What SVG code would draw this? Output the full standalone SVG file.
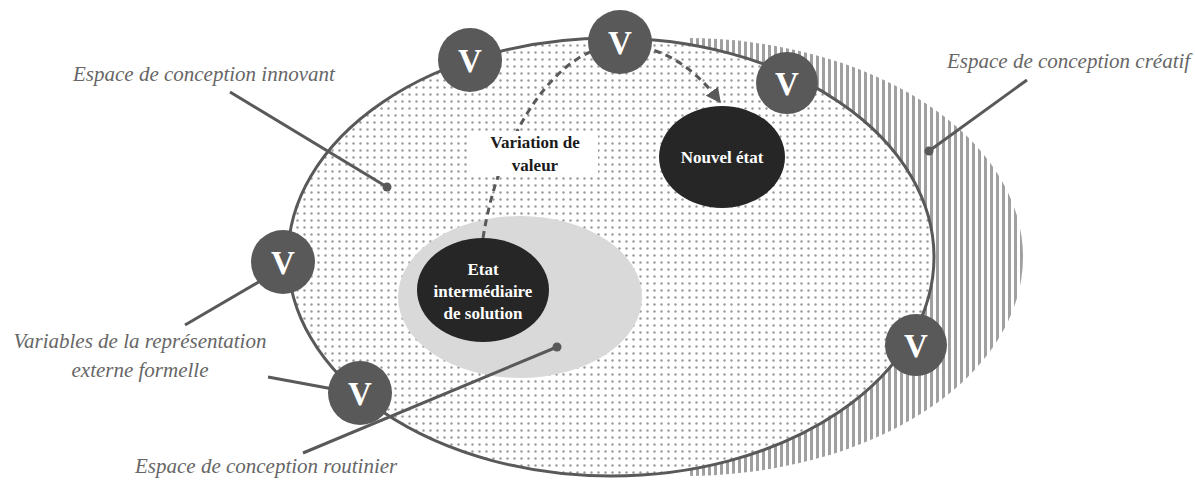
<svg xmlns="http://www.w3.org/2000/svg" width="1195" height="485" viewBox="0 0 1195 485">
<defs>
<style>
.lbl{font-family:"Liberation Serif","Times New Roman","DejaVu Serif",serif;font-style:italic;font-size:21px;fill:#666}
.vc{fill:#595959}
.vt{font-family:"Liberation Serif","Times New Roman","DejaVu Serif",serif;font-weight:bold;font-size:33px;fill:#fff;text-anchor:middle}
.wt{font-family:"Liberation Serif","Times New Roman","DejaVu Serif",serif;font-weight:bold;font-size:17px;fill:#fff;text-anchor:middle}
.bt{font-family:"Liberation Serif","Times New Roman","DejaVu Serif",serif;font-weight:bold;font-size:17px;fill:#1a1a1a;text-anchor:middle}
.ln{stroke:#595959;stroke-width:3;fill:none}
.dot{fill:#595959}
</style>
<pattern id="dots" width="7" height="7" patternUnits="userSpaceOnUse">
<rect width="7" height="7" fill="#fff"/>
<circle cx="3.5" cy="3.5" r="1.2" fill="#9a9a9a"/>
</pattern>
<pattern id="stripes" width="6" height="6" patternUnits="userSpaceOnUse">
<rect width="6" height="6" fill="#fff"/>
<rect width="3" height="6" fill="#a0a0a0"/>
</pattern>
<clipPath id="rightClip"><rect x="687" y="0" width="508" height="485"/></clipPath>
<marker id="arr" viewBox="0 0 10 10" refX="9" refY="5" markerWidth="5" markerHeight="5" orient="auto" markerUnits="strokeWidth">
<path d="M0,0 L10,5 L0,10 z" fill="#595959"/>
</marker>
</defs>

<g id="creative-space">
<ellipse cx="685" cy="257" rx="338" ry="219" fill="url(#stripes)" clip-path="url(#rightClip)"/>
</g>
<g id="innovative-space">
<ellipse cx="611" cy="257" rx="323" ry="219" fill="url(#dots)" stroke="#595959" stroke-width="3"/>
</g>
<g id="routine-space">
<ellipse cx="520" cy="297" rx="122" ry="81" fill="#d9d9d9"/>
</g>

<g id="connectors">
<path class="ln" d="M483,238 C500,130 560,45 620,45 C668,45 700,75 720,102" stroke-dasharray="7,5" marker-end="url(#arr)"/>
<line class="ln" x1="230" y1="92" x2="387" y2="187"/>
<line class="ln" x1="1027" y1="80" x2="929" y2="151"/>
<line class="ln" x1="185" y1="325" x2="262" y2="280"/>
<line class="ln" x1="268" y1="377" x2="333" y2="389"/>
<line class="ln" x1="303" y1="453" x2="557" y2="347"/>
<circle class="dot" cx="387" cy="187" r="4.5"/>
<circle class="dot" cx="929" cy="151" r="4.5"/>
<circle class="dot" cx="557" cy="347" r="4.5"/>
</g>

<g id="label-variation">
<rect x="469" y="131" width="129" height="45" fill="#fff"/>
<text class="bt" x="535" y="148">Variation de</text>
<text class="bt" x="535" y="171">valeur</text>
</g>

<g id="etat-intermediaire">
<ellipse cx="483" cy="290" rx="66" ry="52" fill="#262626"/>
<text class="wt" x="483" y="275">Etat</text>
<text class="wt" x="483" y="297">intermédiaire</text>
<text class="wt" x="483" y="319">de solution</text>
</g>
<g id="nouvel-etat">
<ellipse cx="722" cy="157" rx="63" ry="51" fill="#262626"/>
<text class="wt" x="722" y="163">Nouvel état</text>
</g>

<g id="v1"><circle class="vc" cx="470" cy="60" r="32"/><text class="vt" x="470" y="72">V</text></g>
<g id="v2"><circle class="vc" cx="620" cy="42" r="32"/><text class="vt" x="620" y="54">V</text></g>
<g id="v3"><circle class="vc" cx="787" cy="83" r="31"/><text class="vt" x="787" y="95">V</text></g>
<g id="v4"><circle class="vc" cx="283" cy="262" r="32"/><text class="vt" x="283" y="274">V</text></g>
<g id="v5"><circle class="vc" cx="360" cy="393" r="32"/><text class="vt" x="360" y="405">V</text></g>
<g id="v6"><circle class="vc" cx="916" cy="345" r="31"/><text class="vt" x="916" y="357">V</text></g>

<g id="labels">
<text class="lbl" x="73" y="81">Espace de conception innovant</text>
<text class="lbl" x="947" y="68">Espace de conception créatif</text>
<text class="lbl" x="140" y="348" text-anchor="middle">Variables de la représentation</text>
<text class="lbl" x="140" y="377" text-anchor="middle">externe formelle</text>
<text class="lbl" x="135" y="473">Espace de conception routinier</text>
</g>
</svg>
